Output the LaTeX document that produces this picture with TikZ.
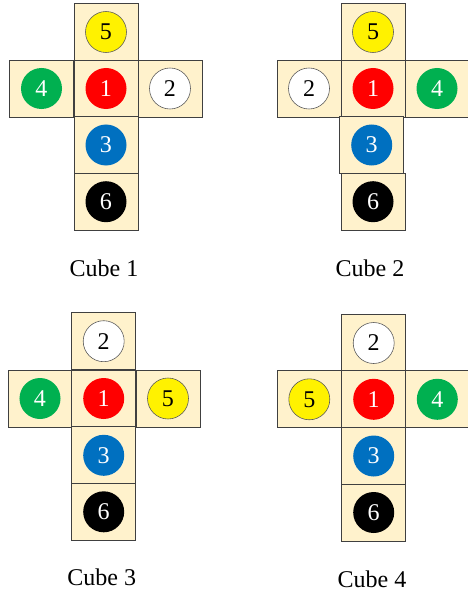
\documentclass[tikz,border=0pt]{standalone}
\usepackage{fontspec}
\setmainfont{Liberation Serif}
\definecolor{cream}{HTML}{FFF2CC}
\definecolor{edge}{HTML}{404040}
\definecolor{rim}{HTML}{595959}
\definecolor{grn}{HTML}{00B050}
\definecolor{blu}{HTML}{0070C0}
\tikzset{
	face/.style={draw=edge, fill=cream, line width=0.8pt, minimum width=1.92cm, minimum height=1.71cm, inner sep=0pt},
	spot/.style={circle, minimum size=1.23cm, inner sep=0pt, text=white, fill=#1},
	pale/.style={spot=#1, draw=rim, line width=0.5pt, text=black}
}
\begin{document}
\begin{tikzpicture}[x=0.03cm, y=-0.03cm, font=\fontsize{20.5}{24}\selectfont]
				\useasboundingbox (0, 0) rectangle (467, 594);

				%%cube 1
				\node[face] (a5) at (106, 32){};     \node[pale=yellow] (a5d) at (a5){5};
				\node[face] (a4) at (41.5, 88.5){};  \node[spot=grn] (a4d) at (a4){4};
				\node[face] (a1) at (106, 88.5){};   \node[spot=red] (a1d) at (a1){1};
				\node[face] (a2) at (170, 88.5){};   \node[pale=white] (a2d) at (a2){2};
				\node[face] (a3) at (106, 145){};    \node[spot=blu] (a3d) at (a3){3};
				\node[face] (a6) at (106, 201.7){};  \node[spot=black] (a6d) at (a6){6};
				\node (atitle) at (104, 268){Cube 1};

				%%cube 2
				\node[face] (b5) at (373, 32){};     \node[pale=yellow] (b5d) at (b5){5};
				\node[face] (b2) at (309, 88.5){};   \node[pale=white] (b2d) at (b2){2};
				\node[face] (b1) at (373, 88.5){};   \node[spot=red] (b1d) at (b1){1};
				\node[face] (b4) at (437, 88.5){};   \node[spot=grn] (b4d) at (b4){4};
				\node[face] (b3) at (371.7, 145){};  \node[spot=blu] (b3d) at (b3){3};
				\node[face] (b6) at (373, 201.7){};  \node[spot=black] (b6d) at (b6){6};
				\node (btitle) at (370, 268){Cube 2};

				%%cube 3
				\node[face] (c2) at (103.7, 341.2){}; \node[pale=white] (c2d) at (c2){2};
				\node[face] (c4) at (40, 398.5){};    \node[spot=grn] (c4d) at (c4){4};
				\node[face] (c1) at (103.7, 398.5){}; \node[spot=red] (c1d) at (c1){1};
				\node[face] (c5) at (168, 398.5){};   \node[pale=yellow] (c5d) at (c5){5};
				\node[face] (c3) at (103.7, 455.3){}; \node[spot=blu] (c3d) at (c3){3};
				\node[face] (c6) at (103.7, 511.8){}; \node[spot=black] (c6d) at (c6){6};
				\node (ctitle) at (101.7, 577){Cube 3};

				%%cube 4
				\node[face] (d2) at (373.7, 343){};   \node[pale=white] (d2d) at (d2){2};
				\node[face] (d5) at (309.3, 399.3){}; \node[pale=yellow] (d5d) at (d5){5};
				\node[face] (d1) at (373.7, 399.3){}; \node[spot=red] (d1d) at (d1){1};
				\node[face] (d4) at (437.3, 399.3){}; \node[spot=grn] (d4d) at (d4){4};
				\node[face] (d3) at (373.7, 456){};   \node[spot=blu] (d3d) at (d3){3};
				\node[face] (d6) at (373.7, 512.5){}; \node[spot=black] (d6d) at (d6){6};
				\node (dtitle) at (372, 579.5){Cube 4};
			\end{tikzpicture}
\end{document}
